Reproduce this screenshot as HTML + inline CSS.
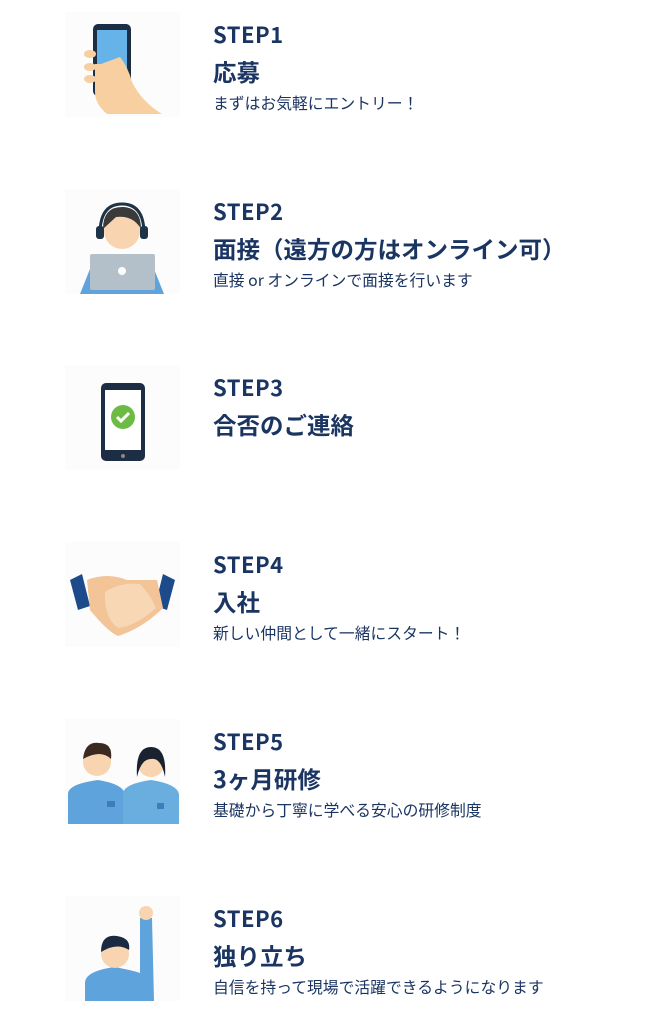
<!DOCTYPE html>
<html><head><meta charset="utf-8"><style>
body{margin:0;width:670px;height:1025px;background:#fff;font-family:"Liberation Sans","Noto Sans CJK JP",sans-serif;color:#1b3563;position:relative;overflow:hidden}
.s{position:absolute;left:0;width:670px;height:120px}
.ic{position:absolute;left:65px;top:12px;width:115px;height:105px;background:#fcfcfc}
.st{position:absolute;left:213px;top:20px;font-size:22px;font-weight:bold;letter-spacing:.5px;line-height:28px;font-family:"Noto Sans CJK JP","Liberation Sans",sans-serif}
.tt{position:absolute;left:213px;top:55px;font-size:23.5px;font-weight:bold;line-height:32px;white-space:nowrap;font-family:"Noto Sans CJK JP",sans-serif}
.sb{position:absolute;left:213px;top:93px;font-size:15.8px;line-height:20px;white-space:nowrap;font-family:"Noto Sans CJK JP",sans-serif}
</style></head><body>

<div class="s" style="top:0">
<svg class="ic" viewBox="0 0 115 105"><rect x="28" y="12" width="38" height="72" rx="5" fill="#1d2d44"/><rect x="32" y="18" width="30" height="55" fill="#66b3ea"/><path d="M55 45 q8 10 12 25 q10 20 30 32 l-55 0 q-12 -10 -12 -22 l0 -28 l6 0z" fill="#f8cfa0"/><ellipse cx="25" cy="42" rx="6" ry="4" fill="#f8cfa0"/><ellipse cx="25" cy="55" rx="6" ry="4" fill="#f8cfa0"/><ellipse cx="25" cy="67" rx="6" ry="4" fill="#f8cfa0"/></svg>
<div class="st">STEP1</div><div class="tt">応募</div><div class="sb">まずはお気軽にエントリー！</div></div>

<div class="s" style="top:177px">
<svg class="ic" viewBox="0 0 115 105"><path d="M15 105 l12 -30 q30 -12 60 0 l12 30z" fill="#5fa3dc"/><circle cx="57" cy="42" r="18" fill="#f9d4b0"/><path d="M38 40 q0 -22 19 -22 q19 0 19 22 q-8 -14 -25 -12z" fill="#3a3a3a"/><path d="M35 45 q0 -30 22 -30 q22 0 22 30" fill="none" stroke="#1d3347" stroke-width="3"/><rect x="31" y="37" width="8" height="13" rx="3" fill="#1d3347"/><rect x="75" y="37" width="8" height="13" rx="3" fill="#1d3347"/><rect x="25" y="65" width="65" height="36" rx="2" fill="#b3bfc9"/><circle cx="57" cy="82" r="4" fill="#fff"/></svg>
<div class="st">STEP2</div><div class="tt">面接（遠方の方はオンライン可）</div><div class="sb">直接 or オンラインで面接を行います</div></div>

<div class="s" style="top:353px">
<svg class="ic" viewBox="0 0 115 105"><rect x="36" y="18" width="44" height="78" rx="5" fill="#1d2d44"/><rect x="40" y="25" width="36" height="60" fill="#fff"/><circle cx="58" cy="52" r="12" fill="#6dbb45"/><path d="M52 52 l4 4 l8 -8" stroke="#fff" stroke-width="3" fill="none"/><circle cx="58" cy="91" r="2" fill="#888"/></svg>
<div class="st">STEP3</div><div class="tt">合否のご連絡</div></div>

<div class="s" style="top:530px">
<svg class="ic" viewBox="0 0 115 105"><path d="M5 38 l12 -6 l8 32 l-12 4z" fill="#1d4a8a"/><path d="M110 38 l-12 -6 l-8 32 l12 4z" fill="#1d4a8a"/><path d="M22 38 q20 -8 40 0 l30 0 l6 28 q-20 20 -45 28 q-10 -4 -28 -26z" fill="#f3c497"/><path d="M40 50 q15 -10 35 -8 q10 10 16 24 q-20 18 -38 20 q-14 -10 -13 -36z" fill="#f8d7b5"/></svg>
<div class="st">STEP4</div><div class="tt">入社</div><div class="sb">新しい仲間として一緒にスタート！</div></div>

<div class="s" style="top:707px">
<svg class="ic" viewBox="0 0 115 105"><path d="M3 105 l0 -30 q0 -10 30 -14 q25 4 27 14 l0 30z" fill="#5fa3dc"/><circle cx="32" cy="43" r="14" fill="#f9d4b0"/><path d="M18 40 q2 -18 16 -16 q14 0 12 16 q-10 -10 -28 0z" fill="#3a2a20"/><path d="M58 105 l0 -30 q0 -10 28 -14 q26 4 28 14 l0 30z" fill="#6aaee0"/><circle cx="86" cy="45" r="13" fill="#f9d4b0"/><path d="M72 58 q-2 -30 14 -30 q16 0 14 30 q-4 -20 -14 -18 q-10 0 -14 18z" fill="#1a2230"/><rect x="42" y="82" width="8" height="6" fill="#3d7dba"/><rect x="92" y="84" width="7" height="6" fill="#3d7dba"/></svg>
<div class="st">STEP5</div><div class="tt">3ヶ月研修</div><div class="sb">基礎から丁寧に学べる安心の研修制度</div></div>

<div class="s" style="top:884px">
<svg class="ic" viewBox="0 0 115 105"><path d="M20 105 l0 -18 q0 -12 30 -16 q20 4 25 6 l0 -55 l12 0 l2 83z" fill="#5fa3dc"/><circle cx="81" cy="17" r="7" fill="#f9d4b0"/><circle cx="50" cy="58" r="14" fill="#f9d4b0"/><path d="M36 56 q0 -18 16 -16 q14 2 12 14 q-12 -8 -28 2z" fill="#1a2a40"/></svg>
<div class="st">STEP6</div><div class="tt">独り立ち</div><div class="sb">自信を持って現場で活躍できるようになります</div></div>

</body></html>
